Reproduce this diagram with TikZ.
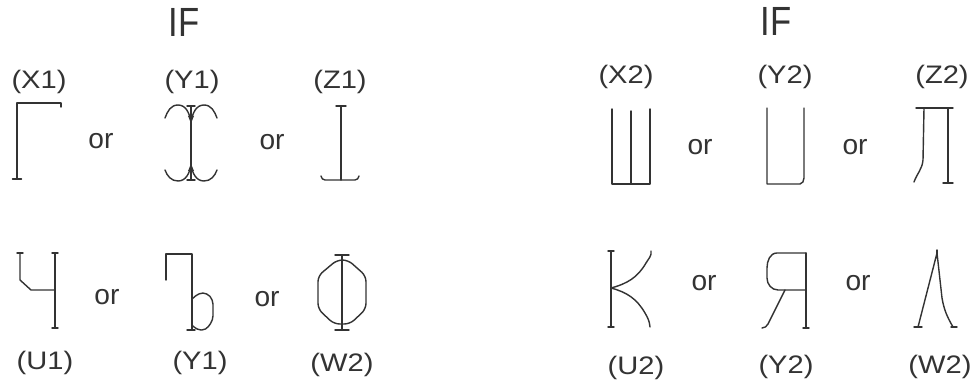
\documentclass[tikz,border=0pt]{standalone}
\usepackage{fontspec}
\setmainfont{Liberation Sans}
\newfontfamily\labfont[FakeStretch=1.15]{Liberation Sans}
\newfontfamily\iffont[FakeStretch=0.85]{Liberation Sans}
\definecolor{ink}{HTML}{333333}
\begin{document}
\begin{tikzpicture}[x=0.025cm,y=-0.025cm,
  glyph/.style={draw=ink,line width=1pt,line join=round,line cap=round},
  lab/.style={text=ink,inner sep=0pt,font=\labfont\fontsize{18}{21}\selectfont},
  ortext/.style={text=ink,inner sep=0pt,font=\fontsize{20}{24}\selectfont},
  iftext/.style={text=ink,inner sep=0pt,font=\iffont\fontsize{29}{34}\selectfont}]
\useasboundingbox[fill=white] (0,0) rectangle (972,386);
\newcommand{\glyphserif}[3]{\draw[glyph] (#1-#3,#2) -- (#1+#3,#2);}
% headings
\node[iftext] (ifL) at (184,22) {IF};
\node[iftext] (ifR) at (776,21) {IF};
% top labels
\node[lab] (x1) at (39,82) {(X1)};
\node[lab] (y1t) at (192,82) {(Y1)};
\node[lab] (z1) at (340,82) {(Z1)};
\node[lab] (x2) at (626,77) {(X2)};
\node[lab] (y2t) at (785,77) {(Y2)};
\node[lab] (z2) at (942,77) {(Z2)};
% bottom labels
\node[lab] (u1) at (45,363) {(U1)};
\node[lab] (y1b) at (200,363) {(Y1)};
\node[lab] (w2L) at (342,365) {(W2)};
\node[lab] (u2) at (636,368) {(U2)};
\node[lab] (y2b) at (786,367) {(Y2)};
\node[lab] (w2R) at (940,367) {(W2)};
% or
\node[ortext] (or1) at (101,141) {or};
\node[ortext] (or2) at (272,142) {or};
\node[ortext] (or3) at (700,147) {or};
\node[ortext] (or4) at (855,147) {or};
\node[ortext] (or5) at (107,297) {or};
\node[ortext] (or6) at (267,299) {or};
\node[ortext] (or7) at (704,283) {or};
\node[ortext] (or8) at (858,283) {or};
% X1: Gamma
\draw[glyph] (17,179) -- (17,103) -- (61,103) -- (61,107);
\glyphserif{17}{179}{4.5}
% Y1 top
\draw[glyph] (191,106) -- (191,180);
\glyphserif{191}{106}{4}
\glyphserif{191}{180}{4}
\draw[glyph] (165,118) to[out=70,in=180] (178,105) to[out=0,in=100] (191,122)
  to[out=80,in=180] (204,105) to[out=0,in=110] (217,118);
\fill[ink] (188,116) -- (194,116) -- (191,123) -- cycle;
\draw[glyph] (165,170) to[out=-70,in=180] (178,181) to[out=0,in=-100] (191,165)
  to[out=-80,in=180] (204,181) to[out=0,in=-110] (217,170);
\fill[ink] (188,171) -- (194,171) -- (191,164) -- cycle;
% Z1
\draw[glyph] (341,106) -- (341,180);
\glyphserif{341}{106}{5}
\draw[glyph] (321,176) to[out=-80,in=180] (325,180) -- (355,180) to[out=0,in=-100] (359,176);
% U1
\draw[glyph] (20,253) -- (20,280) -- (31,290) -- (55,290);
\draw[glyph] (55,253) -- (55,328);
\glyphserif{20}{253}{3}
\glyphserif{55}{253}{3}
\glyphserif{55}{328}{3}
% Y1 bottom
\draw[glyph] (166,280) -- (166,254) -- (192,254) -- (192,330);
\draw[glyph,rounded corners=3] (192,299) -- (199,293) -- (207,293) -- (213,300) -- (213,320) -- (206,330) -- (197,330) -- (192,325);
\glyphserif{191}{330}{4}
% W2 left: Phi
\draw[glyph] (342,255) -- (342,330);
\glyphserif{342}{255}{7}
\glyphserif{342}{330}{7}
\draw[glyph,rounded corners=4] (337,260) -- (348,260) -- (366,276) -- (366,309) -- (350,324) -- (334,324) -- (318,309) -- (318,276) -- cycle;
% X2: Sha
\draw[glyph] (612,109) -- (612,184) -- (650,184) -- (650,109);
\draw[glyph] (631,111) -- (631,184);
% Y2 top
\draw[glyph] (767,108) -- (767,184) -- (800,184) to[out=0,in=-100] (804,178) -- (804,108);
% Z2: El
\draw[glyph] (916,108) -- (953,108);
\draw[glyph] (924,108) -- (923,160) to[out=-95,in=70] (914,182);
\draw[glyph] (948,108) -- (948,183);
\glyphserif{948}{183}{5}
% U2: K
\draw[glyph] (611,251) -- (611,327);
\glyphserif{611}{251}{3}
\glyphserif{611}{327}{3}
\draw[glyph] (611,288) to[out=15,in=-120] (646,263) to[out=60,in=-80] (651,251);
\draw[glyph] (611,288) to[out=-15,in=120] (645,313) to[out=-60,in=95] (650,327);
% Y2 bottom: Ya
\draw[glyph] (806,253) -- (806,328);
\glyphserif{806}{328}{3}
\draw[glyph] (806,253) -- (777,253) to[out=180,in=90] (767,268) -- (767,278) to[out=-90,in=180] (778,290) -- (806,290);
\draw[glyph] (785,290) -- (768,324) to[out=-120,in=0] (762,328);
% W2 right: Lambda
\draw[glyph] (937,250) -- (937,258);
\draw[glyph] (937,253) -- (918,327);
\draw[glyph] (937,253) -- (942,298) to[out=-80,in=120] (953,327);
\glyphserif{918}{327}{4}
\glyphserif{954}{327}{3}
\end{tikzpicture}
\end{document}
